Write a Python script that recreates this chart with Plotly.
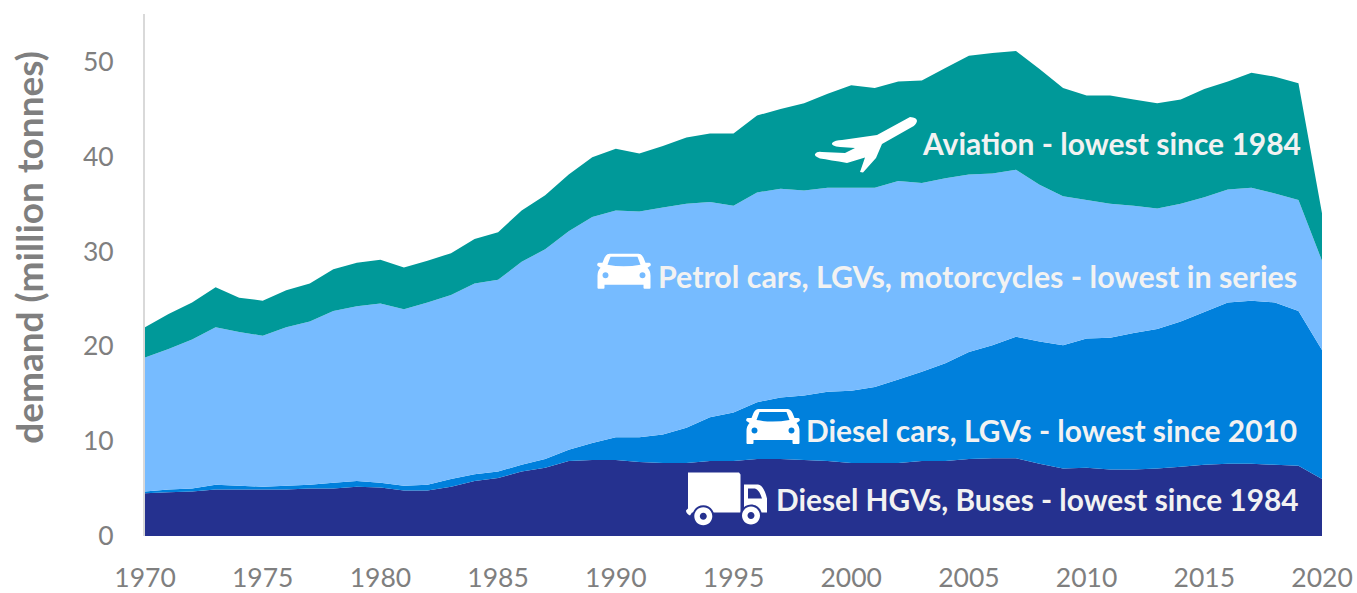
import re
import plotly.graph_objects as go

years = list(range(1970, 2021))
# Cumulative top of each stacked band (million tonnes)
hgv_top = [4.5,4.6,4.7,4.9,4.9,4.9,4.9,5.0,5.0,5.2,5.1,4.8,4.8,5.2,5.8,6.1,6.8,7.2,7.9,8.0,8.0,7.8,7.7,7.7,7.9,7.9,8.1,8.1,8.0,7.9,7.7,7.7,7.7,7.9,7.9,8.1,8.2,8.2,7.6,7.1,7.2,7.0,7.0,7.1,7.3,7.5,7.6,7.6,7.5,7.4,6.0]
diesel_top = [4.7,4.9,5.0,5.4,5.3,5.2,5.3,5.4,5.6,5.8,5.6,5.3,5.4,6.0,6.5,6.8,7.5,8.1,9.1,9.8,10.4,10.4,10.7,11.4,12.5,13.0,14.1,14.6,14.8,15.2,15.3,15.7,16.5,17.3,18.2,19.4,20.1,21.0,20.5,20.1,20.8,20.9,21.4,21.8,22.6,23.6,24.6,24.8,24.6,23.7,19.6]
petrol_top = [18.8,19.7,20.7,22.0,21.5,21.1,22.0,22.6,23.7,24.2,24.5,23.9,24.6,25.4,26.6,27.0,28.9,30.2,32.1,33.6,34.3,34.2,34.6,35.0,35.2,34.8,36.2,36.6,36.4,36.7,36.7,36.7,37.4,37.2,37.7,38.1,38.2,38.6,37.0,35.8,35.4,35.0,34.8,34.5,35.0,35.7,36.5,36.7,36.1,35.4,29.0]
aviation_top = [22.0,23.4,24.6,26.2,25.1,24.8,25.9,26.6,28.1,28.8,29.1,28.3,29.0,29.8,31.3,32.0,34.3,35.9,38.1,39.9,40.8,40.3,41.1,42.0,42.4,42.4,44.3,45.0,45.6,46.6,47.5,47.2,47.9,48.0,49.3,50.6,50.9,51.1,49.2,47.2,46.4,46.4,46.0,45.6,46.0,47.1,47.9,48.8,48.4,47.7,34.0]

series_names = ["Diesel HGVs, Buses", "Diesel cars, LGVs", "Petrol cars, LGVs, motorcycles", "Aviation"]
series_colors = ["#25318F", "#0080DC", "#76BBFF", "#009999"]
x_ticks = list(range(1970, 2021, 5))
y_ticks = [0, 10, 20, 30, 40, 50]
labels = ["Aviation - lowest since 1984",
          "Petrol cars, LGVs, motorcycles - lowest in series",
          "Diesel cars, LGVs - lowest since 2010",
          "Diesel HGVs, Buses - lowest since 1984"]
label_years = [2019.18, 2019.03, 2019.03, 2019.06]
label_values = [41.45, 27.4, 11.2, 3.8]
label_sizes = [30, 30.4, 29.9, 29.8]

GREY = "#7F7F7F"
TXT = "#F2F2F2"

fig = go.Figure()
for i, (name, top) in enumerate(zip(series_names, [hgv_top, diesel_top, petrol_top, aviation_top])):
    fig.add_trace(go.Scatter(x=years, y=top, name=name, mode="none",
                             fill="tozeroy" if i == 0 else "tonexty",
                             fillcolor=series_colors[i], hoverinfo="x+y+name"))


def yr(px):
    return 1970 + (px - 145) / 23.54


def val(py):
    return (536.5 - py) / 9.5


def local(path, s=1.0):
    """Icon outline given y-down; pixel-sized shapes count y upward from the anchor."""
    def pair(m):
        return f"{float(m.group(1))*s:.1f} {-float(m.group(2))*s:.1f}"
    return re.sub(r"(-?[\d.]+)[ ,]+(-?[\d.]+)", pair, path)


def circle(cx, cy, r):
    k = 0.5523 * r
    return (f"M{cx-r} {cy} C{cx-r} {cy-k} {cx-k} {cy-r} {cx} {cy-r} "
            f"C{cx+k} {cy-r} {cx+r} {cy-k} {cx+r} {cy} "
            f"C{cx+r} {cy+k} {cx+k} {cy+r} {cx} {cy+r} "
            f"C{cx-k} {cy+r} {cx-r} {cy+k} {cx-r} {cy} Z ")


def icon(path, ox, oy, color="white", s=1.0):
    fig.add_shape(type="path", path=local(path, s), xsizemode="pixel", ysizemode="pixel",
                  xanchor=yr(ox), yanchor=val(oy), xref="x", yref="y",
                  fillcolor=color, fillrule="evenodd", line_width=0, layer="above")


PLANE = ("M320 17 Q327 17.5 327 21 Q326 25 322 27 L292 44 L286 58 L273 72.5 L270 72 L275 57.5 "
         "L257 63 Q240 60 230 58.5 Q224 56 225 54 Q227 51 232 52 L255 53 L265 48 L250 47 "
         "Q241 46 242 43 Q245 40 252 40 L287 35 Z")
CAR = ("M12 0 L41 0 Q44 0 46 4 L48 9 L52 9 Q54 10 53 12 L50 14 Q53 17 53 22 L53 34 Q53 35 52 35 "
       "L47 35 Q46 35 46 34 L46 31 L7 31 L7 34 Q7 35 6 35 L1 35 Q0 35 0 34 L0 22 Q0 17 3 14 "
       "L0 12 Q-1 10 1 9 L5 9 L7 4 Q9 0 12 0 Z M13 3 L10 11 Q26 14 43 11 L40 3 Z "
       + circle(8, 21.5, 3) + circle(45, 21.5, 3))
TRUCK_BOX = "M2 0 L53 0 L54.5 2 L54.5 40 L6 40 L4 43 Q0 41 0 38 L2 36 Z"
TRUCK_CAB = ("M58 12 L72 12 Q78 13 81 26 L81 40 L58 40 Z M62 16 L62 26 L76 26 Q73 17 69 16 Z")

icon(PLANE, 590, 100)
icon(CAR, 597.5, 254)
icon(CAR, 746.5, 409.5)
TX, TY = 686, 473
icon(TRUCK_BOX, TX, TY)
icon(TRUCK_CAB, TX, TY)
for cx, cy in [(17.3, 43.7), (65, 43)]:
    icon(circle(cx, cy, 11), TX, TY, color=series_colors[0])
    icon(circle(cx, cy, 9) + circle(cx, cy, 3.5), TX, TY)

for text, xv, yv, fs in zip(labels, label_years, label_values, label_sizes):
    fig.add_annotation(x=xv, y=yv, xref="x", yref="y", text=f"<b>{text}</b>", showarrow=False,
                       xanchor="right", yanchor="middle",
                       font=dict(family="Lato", size=fs, color=TXT))

fig.add_annotation(x=(29 - 145) / 1177, y=(536.5 - 248) / 522.5, xref="paper", yref="paper",
                   text="<b>demand (million tonnes)</b>",
                   textangle=-90, showarrow=False, xanchor="center", yanchor="middle",
                   font=dict(family="Lato", size=37, color=GREY))

fig.update_layout(
    width=1357, height=593, autosize=False, showlegend=False,
    margin=dict(l=145, r=35, t=14, b=56.5, pad=0, autoexpand=False),
    paper_bgcolor="white", plot_bgcolor="white",
    font=dict(family="Lato", color=GREY),
    xaxis=dict(range=[1970, 2020], tickmode="array", tickvals=x_ticks, showgrid=False, zeroline=False,
               showline=False, ticks="", ticklabelstandoff=23, automargin=False,
               tickfont=dict(size=26.5, color=GREY)),
    yaxis=dict(range=[0, 55], tickmode="array", tickvals=y_ticks, showgrid=False, zeroline=False,
               showline=True, linecolor="#D9D9D9", linewidth=2, ticks="", ticklabelstandoff=24,
               automargin=False, tickfont=dict(size=26.5, color=GREY)),
)

fig.write_html("out.html", config={"displayModeBar": False},
               post_script="document.body.style.margin='0';document.body.style.overflow='hidden';")
